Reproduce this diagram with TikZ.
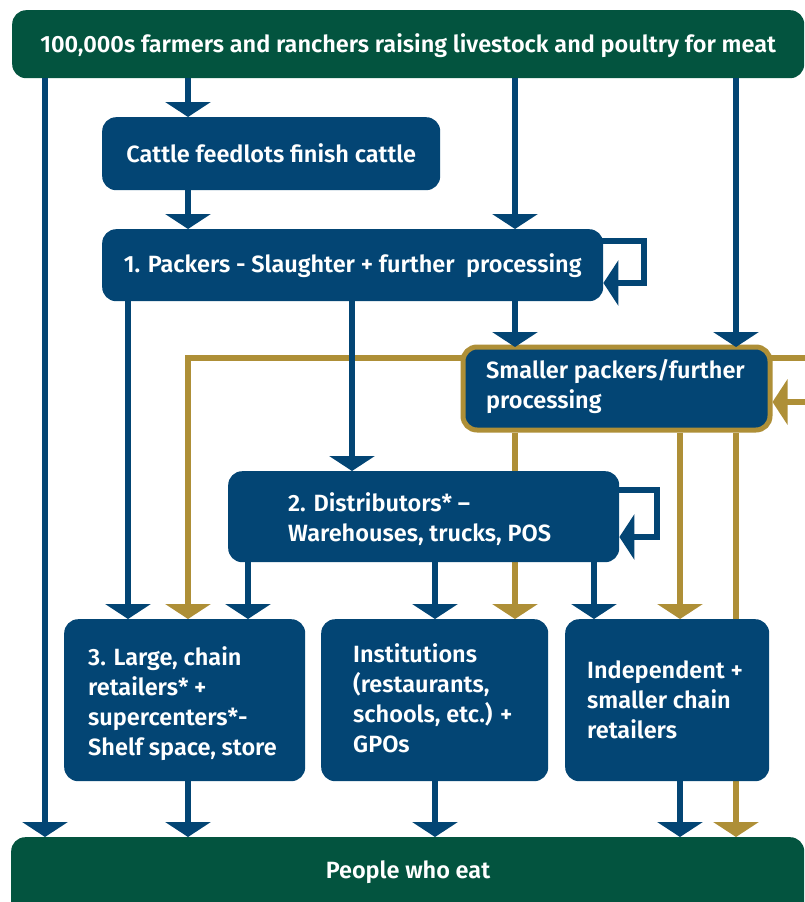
\documentclass[tikz,border=0pt]{standalone}
\usepackage{fontspec}
\setmainfont{Fira Sans SemiBold}
\usetikzlibrary{arrows.meta}
\definecolor{cblue}{HTML}{034574}
\definecolor{cgreen}{HTML}{03543F}
\definecolor{cgold}{HTML}{AE8F37}
\pgfdeclarelayer{background}
\pgfsetlayers{background,main}
\begin{document}
\begin{tikzpicture}[x=1pt,y=-1pt,
  box/.style={rectangle, rounded corners=14pt, fill=cblue, inner sep=0pt, anchor=north west},
  gbox/.style={box, fill=cgreen},
  txt/.style={text=white, inner sep=0pt, align=left, font=\fontsize{23.5}{30}\selectfont},
  barr/.style={draw=cblue, line width=6.5pt, -{Triangle[width=45pt,length=15pt]}},
  garr/.style={draw=cgold, line width=6.5pt, -{Triangle[width=45pt,length=15pt]}},
  gline/.style={draw=cgold, line width=6.5pt}]
\useasboundingbox (0,0) rectangle (805,902);
% boxes
\node[gbox, minimum width=792pt, minimum height=68pt] (top) at (12,10) {};
\node[txt] (topt) at ([yshift=-1pt]top.center) {100,000s farmers and ranchers raising livestock and poultry for meat};
\node[box, minimum width=338pt, minimum height=73pt] (fl) at (102,117) {};
\node[txt] (flt) at (fl.center) {Cattle feedlots finish cattle};
\node[box, minimum width=501pt, minimum height=72pt] (pk) at (102,229) {};
\node[txt] (pkt) at (pk.center) {1. Packers - Slaughter + further\ \ processing};
\node[box, draw=cgold, line width=5pt, minimum width=307pt, minimum height=83pt] (sp) at (460.5,344.5) {};
\node[txt, anchor=west] (spt) at ([xshift=25.5pt,yshift=2pt]sp.west) {Smaller packers/further\\processing};
\node[box, minimum width=391pt, minimum height=91pt] (dist) at (228,471) {};
\node[txt, anchor=west] (distt) at ([xshift=60pt,yshift=-2pt]dist.west) {2. Distributors* –\\Warehouses, trucks, POS};
\node[box, minimum width=241pt, minimum height=162pt] (lc) at (64,619) {};
\node[txt, anchor=west] (lct) at ([xshift=24pt,yshift=-3pt]lc.west) {3. Large, chain\\retailers* +\\supercenters*-\\Shelf space, store};
\node[box, minimum width=227pt, minimum height=162pt] (inst) at (321,619) {};
\node[txt, anchor=west] (instt) at ([xshift=32pt,yshift=2pt]inst.west) {Institutions\\(restaurants,\\schools, etc.) +\\GPOs};
\node[box, minimum width=204pt, minimum height=162pt] (ind) at (565,619) {};
\node[txt, anchor=west] (indt) at ([xshift=22pt]ind.west) {Independent +\\smaller chain\\retailers};
\node[gbox, minimum width=793pt, minimum height=80pt] (bot) at (11,837) {};
\node[txt] (bott) at (408,872) {People who eat};
% x positions
\coordinate (xa) at (45,0);
\coordinate (xb) at (128,0);
\coordinate (xc) at (188,0);
\coordinate (xd) at (248,0);
\coordinate (xe) at (352,0);
\coordinate (xf) at (435,0);
\coordinate (xg) at (515,0);
\coordinate (xh) at (594,0);
\coordinate (xi) at (680,0);
\coordinate (xj) at (736,0);
\coordinate (gy) at (0,358);
\coordinate (gy2) at (0,402);
\coordinate (gx) at (835,0);
\coordinate (py1) at (0,241);
\coordinate (py2) at (0,283);
\coordinate (px) at (644,0);
\coordinate (pin) at (590,0);
\coordinate (dy1) at (0,490);
\coordinate (dy2) at (0,537);
\coordinate (dx) at (657,0);
\coordinate (din) at (606,0);
% gold connectors and loops (behind)
\begin{pgfonlayer}{background}
\draw[garr] (sp.west |- gy) -- (xc |- gy) -- (lc.north -| xc);
\draw[garr] (sp.east |- gy) -- (gx |- gy) -- (gx |- gy2) -- (sp.east |- gy2);
\draw[garr] (sp.south -| xg) -- (inst.north -| xg);
\draw[garr] (sp.south -| xi) -- (ind.north -| xi);
\draw[garr] (sp.south -| xj) -- (bot.north -| xj);
\draw[gline] (sp.west |- gy) -- (sp.east |- gy);
\draw[barr] (pin |- py1) -- (px |- py1) -- (px |- py2) -- (pk.east |- py2);
\draw[barr] (din |- dy1) -- (dx |- dy1) -- (dx |- dy2) -- (dist.east |- dy2);
\end{pgfonlayer}
% blue connectors
\draw[barr] (top.south -| xa) -- (bot.north -| xa);
\draw[barr] (top.south -| xc) -- (fl.north -| xc);
\draw[barr] (fl.south -| xc) -- (pk.north -| xc);
\draw[barr] (top.south -| xg) -- (pk.north -| xg);
\draw[barr] (top.south -| xj) -- ([yshift=-2.5pt]sp.north -| xj);
\draw[barr] (pk.south -| xg) -- ([yshift=-2.5pt]sp.north -| xg);
\draw[barr] (pk.south -| xb) -- (lc.north -| xb);
\draw[barr] (pk.south -| xe) -- (dist.north -| xe);
\draw[barr] (dist.south -| xd) -- (lc.north -| xd);
\draw[barr] (dist.south -| xf) -- (inst.north -| xf);
\draw[barr] (dist.south -| xh) -- (ind.north -| xh);
\draw[barr] (lc.south -| xc) -- (bot.north -| xc);
\draw[barr] (inst.south -| xf) -- (bot.north -| xf);
\draw[barr] (ind.south -| xi) -- (bot.north -| xi);
\end{tikzpicture}
\end{document}
